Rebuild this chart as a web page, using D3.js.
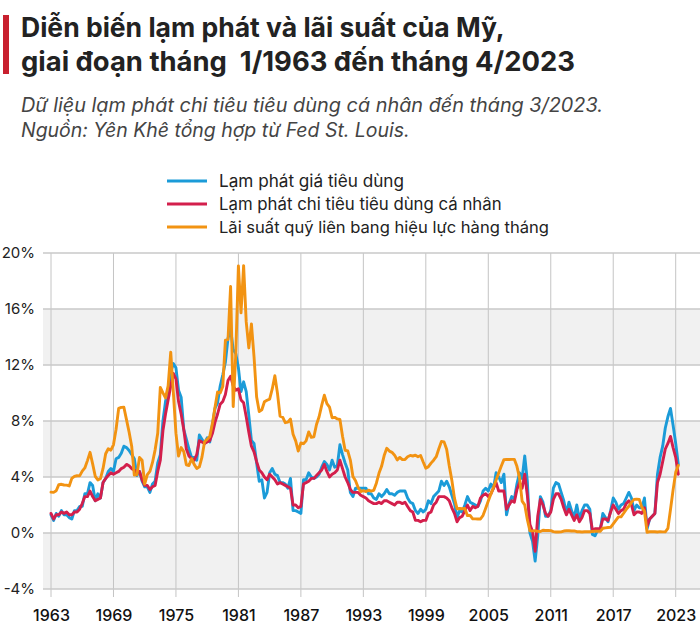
<!DOCTYPE html>
<html><head><meta charset="utf-8">
<script src="https://cdn.jsdelivr.net/npm/d3@7"></script>
<style>
body{margin:0;background:#fff;}
svg{display:block;font-family:Inter,"Noto Sans",sans-serif;}
</style></head><body>
<svg id="chart" width="700" height="628"></svg>
<script>
// ---------- DATA (quarterly samples, Jan/Apr/Jul/Oct, from 1963) ----------
const startYear = 1963;
const xTickYears = [1963,1969,1975,1981,1987,1993,1999,2005,2011,2017,2023];
const yTickValues = [-4,0,4,8,12,16,20];
const titleLines = ["Diễn biến lạm phát và lãi suất của Mỹ,", "giai đoạn tháng  1/1963 đến tháng 4/2023"];
const subtitleLines = ["Dữ liệu lạm phát chi tiêu tiêu dùng cá nhân đến tháng 3/2023.", "Nguồn: Yên Khê tổng hợp từ Fed St. Louis."];
const seriesNames = ["Lạm phát giá tiêu dùng", "Lạm phát chi tiêu tiêu dùng cá nhân", "Lãi suất quỹ liên bang hiệu lực hàng tháng"];
const seriesColors = ["#1b9bd8", "#d31f4c", "#f29312"];

const cpi = [
1.3,0.9,1.4,1.2, 1.6,1.3,1.3,1.1, 1.0,1.6,1.6,1.9, 1.9,2.8,2.8,3.6, 3.4,2.3,2.8,2.5,
3.6,3.9,4.4,4.6, 4.4,5.3,5.4,5.7, 6.2,6.1,5.9,5.6, 5.3,4.1,4.4,3.7, 3.3,3.3,2.9,3.5,
3.7,5.0,5.6,8.0, 9.4,10.2,11.5,12.1, 11.8,10.2,9.7,7.4, 6.7,6.0,5.4,5.4, 5.2,7.0,6.7,6.4,
6.8,6.5,7.7,8.9, 9.3,10.5,11.3,12.2, 13.9,14.6,13.1,12.8, 11.8,10.1,10.8,10.1, 8.4,6.6,6.4,5.0,
3.7,3.8,2.5,2.9, 4.3,4.6,4.2,4.1, 3.6,3.6,3.5,3.2, 3.9,1.6,1.6,1.5, 1.4,3.8,3.8,4.3,
4.0,3.9,4.0,4.2, 4.7,5.1,4.9,4.5, 5.2,4.7,4.8,6.3, 5.6,5.0,4.5,2.9, 2.6,3.2,3.2,3.2,
3.2,3.2,2.8,2.8, 2.5,2.4,2.8,2.6, 2.8,3.1,2.8,2.8, 2.7,2.9,3.0,3.0, 3.0,2.5,2.2,2.1,
1.6,1.4,1.7,1.5, 1.7,2.3,2.1,2.6, 2.8,3.0,3.7,3.4, 3.7,3.3,2.7,2.1, 1.1,1.6,1.5,2.0,
2.6,2.2,2.1,2.0, 1.9,2.3,3.0,3.2, 3.0,3.5,3.2,4.3, 4.0,3.6,4.2,1.3, 2.1,2.6,2.4,3.5,
4.3,3.9,5.5,3.7, 0.0,-0.6,-2.0,-0.2, 2.6,2.2,1.2,1.2, 1.6,3.2,3.6,3.5, 2.9,2.3,1.4,2.2,
1.6,1.1,2.0,1.0, 1.6,2.0,2.0,1.7, -0.1,-0.2,0.2,0.2, 1.4,1.1,0.8,1.6, 2.5,2.2,1.7,2.0,
2.1,2.5,2.9,2.5, 1.6,2.0,1.8,1.8, 2.5,0.3,1.0,1.2, 1.4,4.2,5.4,6.2, 7.5,8.3,8.9,7.7,
6.4,4.9];

const pce = [
1.4,1.0,1.3,1.3, 1.5,1.4,1.5,1.3, 1.3,1.5,1.5,1.7, 2.1,2.6,2.6,3.0, 2.6,2.3,2.4,2.5,
3.6,3.9,4.1,4.3, 4.2,4.3,4.4,4.6, 4.7,4.9,4.8,4.6, 4.5,4.3,4.4,3.8, 3.4,3.4,3.1,3.3,
3.4,4.4,5.2,7.3, 8.5,9.5,10.5,11.4, 11.0,9.4,8.5,7.4, 6.0,5.5,5.3,5.2, 5.6,6.6,6.5,6.4,
6.5,6.6,7.1,7.9, 8.5,9.2,9.4,9.9, 10.9,11.2,10.5,10.2, 10.3,9.5,9.3,8.3, 7.2,6.2,5.8,5.1,
4.5,4.3,4.0,3.8, 4.2,4.0,3.8,3.5, 3.6,3.5,3.4,3.3, 3.2,2.0,2.0,1.8, 1.9,3.5,3.6,3.7,
3.9,3.9,4.1,4.3, 4.5,4.9,4.4,4.0, 4.2,4.3,4.5,5.2, 4.6,4.0,3.6,3.1, 2.9,2.9,2.9,2.7,
2.6,2.5,2.3,2.2, 2.1,2.1,2.2,2.1, 2.3,2.3,2.2,2.1, 2.0,2.2,2.2,2.1, 2.2,1.9,1.6,1.5,
0.9,0.9,0.8,0.9, 0.9,1.4,1.5,2.0, 2.2,2.6,2.6,2.6, 2.5,2.3,1.8,1.4, 0.8,1.1,1.2,1.6,
2.0,1.6,1.9,1.8, 1.9,2.5,2.7,2.8, 2.6,2.8,3.2,3.6, 3.0,3.0,3.0,1.7, 2.0,2.3,2.2,3.1,
3.6,3.2,4.2,2.7, 0.6,0.1,-1.3,1.2, 2.4,2.0,1.4,1.2, 1.5,2.4,2.8,2.8, 2.4,1.8,1.3,1.7,
1.3,0.9,1.3,0.8, 1.1,1.6,1.6,1.4, 0.2,0.3,0.3,0.3, 1.0,1.0,0.9,1.5, 2.0,1.7,1.4,1.6,
1.7,2.1,2.3,2.0, 1.3,1.5,1.5,1.4, 1.8,0.5,1.0,1.2, 1.4,3.6,4.2,5.1, 6.0,6.4,6.9,6.1,
5.4,4.2];

const fedFunds = [
2.92,2.90,3.02,3.45, 3.48,3.43,3.42,3.36, 3.90,4.04,4.09,4.08, 4.42,4.65,5.17,5.76, 4.94,4.05,3.79,3.88,
4.61,5.66,6.02,5.92, 6.30,7.41,8.90,8.97, 8.98,8.10,7.21,6.20, 4.14,4.15,5.40,5.20, 3.50,4.17,4.40,5.04,
5.94,7.12,10.40,10.01, 9.65,10.51,12.92,10.06, 7.13,5.49,6.10,5.82, 4.87,4.82,5.31,4.90, 4.61,4.73,5.42,6.51,
6.70,6.90,7.81,8.96, 10.07,10.01,10.47,13.77, 13.82,17.61,9.03,12.81, 19.08,15.72,19.10,15.08, 13.22,14.94,12.59,9.71,
8.68,8.80,9.37,9.48, 9.56,10.29,11.23,9.99, 8.35,8.27,7.88,7.92, 8.14,7.06,6.58,5.85, 6.43,6.38,6.58,7.22,
6.83,6.87,7.75,8.30, 9.12,9.84,9.24,8.99, 8.23,8.26,8.15,8.11, 6.91,5.91,5.86,5.21, 4.03,3.73,3.25,2.96,
3.02,2.96,3.06,2.99, 3.05,3.56,4.26,4.76, 5.53,6.05,5.85,5.76, 5.56,5.22,5.40,5.24, 5.25,5.45,5.54,5.50,
5.56,5.45,5.54,5.07, 4.63,4.74,4.99,5.20, 5.45,6.02,6.54,6.51, 5.98,4.80,3.77,2.49, 1.73,1.75,1.73,1.75,
1.24,1.26,1.01,1.01, 1.00,1.00,1.26,1.76, 2.28,2.79,3.26,3.78, 4.29,4.79,5.24,5.25, 5.25,5.26,5.26,4.76,
3.94,2.28,2.01,0.97, 0.15,0.15,0.16,0.12, 0.11,0.20,0.18,0.19, 0.17,0.10,0.07,0.07, 0.08,0.14,0.16,0.16,
0.14,0.15,0.09,0.09, 0.07,0.09,0.09,0.09, 0.11,0.12,0.13,0.12, 0.34,0.37,0.39,0.40, 0.65,0.90,1.15,1.15,
1.41,1.69,1.91,2.19, 2.40,2.42,2.40,1.83, 1.55,0.05,0.09,0.09, 0.09,0.07,0.10,0.08, 0.08,0.33,1.68,3.08,
4.33,4.83];

const seriesValues = [cpi, pce, fedFunds];

// ---------- CHART ----------
const svg = d3.select("#chart");
const gridLeft = 43, gridRight = 700;
const x = d3.scaleLinear().domain([1963, 2023]).range([51, 675.7]);
const y = d3.scaleLinear().domain([-4, 20]).range([589, 253]);

function fit(sel, target) {
  const base = parseFloat(sel.style("font-size"));
  const len = sel.node().getComputedTextLength();
  if (len > 0) sel.style("font-size", (base * target / len).toFixed(2) + "px");
}

// title
svg.append("rect").attr("x", 3).attr("y", 15).attr("width", 6).attr("height", 59).attr("fill", "#c8202f");
const tY = [37, 71];
titleLines.forEach((t, i) => {
  const s = svg.append("text").attr("x", 21).attr("y", tY[i]).text(t)
    .style("font-size", "25px").style("font-weight", 700).style("fill", "#222").style("white-space", "pre");
  fit(s, i === 0 ? 484 : 554);
});
const sY = [112, 137];
subtitleLines.forEach((t, i) => {
  const s = svg.append("text").attr("x", 21).attr("y", sY[i]).text(t)
    .style("font-size", "17px").style("font-style", "italic").style("fill", "#444");
  fit(s, i === 0 ? 582 : 389);
});

// legend
const legY = [181, 204, 227];
const legW = [185, 283, 330];
seriesNames.forEach((n, i) => {
  svg.append("line").attr("x1", 167).attr("x2", 207).attr("y1", legY[i]).attr("y2", legY[i])
    .attr("stroke", seriesColors[i]).attr("stroke-width", 3);
  const s = svg.append("text").attr("x", 219).attr("y", legY[i]).attr("dy", "0.35em").text(n)
    .style("font-size", "15px").style("fill", "#222");
  fit(s, legW[i]);
});

// bands
const bandPairs = d3.pairs(yTickValues).filter(p => ((p[0] - yTickValues[0]) / 4) % 2 === 0);
svg.append("g").selectAll("rect").data(bandPairs).join("rect")
  .attr("x", gridLeft).attr("width", gridRight - gridLeft)
  .attr("y", d => y(d[1])).attr("height", d => y(d[0]) - y(d[1]))
  .attr("fill", "#f1f1f1");

// vertical grid
svg.append("g").selectAll("line").data(xTickYears).join("line")
  .attr("x1", d => x(d)).attr("x2", d => x(d))
  .attr("y1", y(20)).attr("y2", y(-4) + 8)
  .attr("stroke", "#c4c4c4").attr("stroke-width", 1);

// horizontal grid
svg.append("g").selectAll("line").data(yTickValues).join("line")
  .attr("x1", gridLeft).attr("x2", gridRight)
  .attr("y1", d => y(d)).attr("y2", d => y(d))
  .attr("stroke", "#c8c8c8").attr("stroke-width", 1.5);

// axes (labels)
const yAxis = svg.append("g").attr("transform", `translate(${gridLeft},0)`)
  .call(d3.axisLeft(y).tickValues(yTickValues).tickFormat(d => d + "%").tickSize(0).tickPadding(8));
yAxis.select(".domain").remove();
yAxis.selectAll("text").style("font-size", "15px").style("fill", "#222").style("font-family", "Inter, 'Noto Sans', sans-serif");

const xAxis = svg.append("g").attr("transform", `translate(0,${y(-4)})`)
  .call(d3.axisBottom(x).tickValues(xTickYears).tickFormat(d3.format("d")).tickSize(0).tickPadding(21));
xAxis.select(".domain").remove();
xAxis.selectAll("text").style("font-size", "16px").style("font-weight", 500).style("fill", "#111").style("font-family", "Inter, 'Noto Sans', sans-serif");

// lines
const line = d3.line().x((d, i) => x(startYear + i / 4)).y(d => y(d));
seriesValues.forEach((vals, k) => {
  svg.append("path").datum(vals).attr("d", line)
    .attr("fill", "none").attr("stroke", seriesColors[k]).attr("stroke-width", 2.9)
    .attr("stroke-linejoin", "round").attr("stroke-linecap", "round");
});
</script>
</body></html>
